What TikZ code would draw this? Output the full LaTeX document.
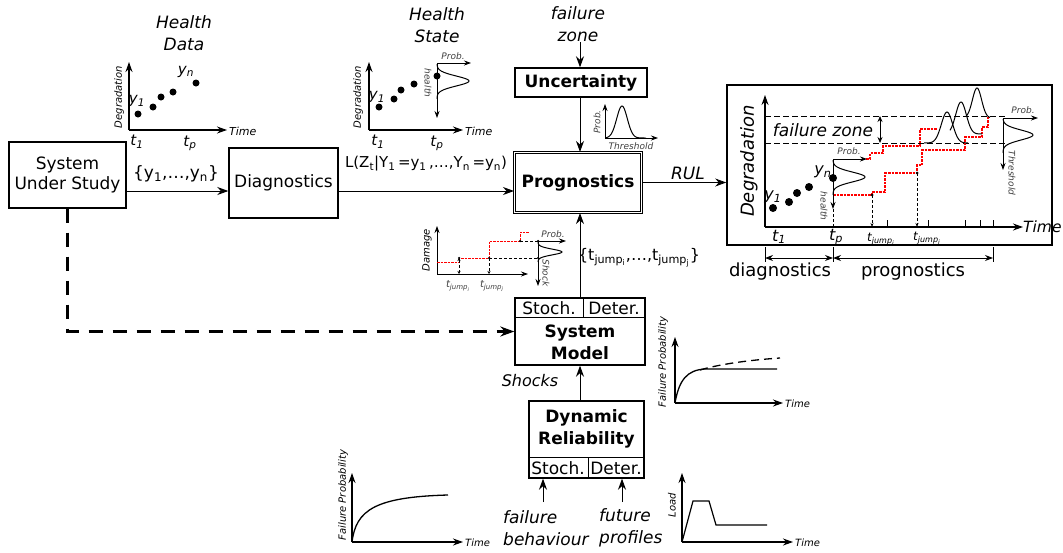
\documentclass[tikz,border=0pt]{standalone}
\usepackage{fontspec}
\setmainfont{DejaVu Sans}
\usetikzlibrary{arrows.meta}
\begin{document}
\begin{tikzpicture}[x=1pt,y=-1pt,
  box/.style={draw, line width=1.4pt, inner sep=0pt, align=center, font=\fontsize{17}{20}\selectfont},
  bbox/.style={box, font=\fontsize{17}{21}\selectfont\bfseries},
  arr/.style={-{Stealth[length=11pt,width=8pt]}, line width=0.9pt},
  axis/.style={-{Stealth[length=10pt,width=7pt]}, line width=1.1pt},
  saxis/.style={-{Stealth[length=7pt,width=5pt]}, line width=0.8pt},
  lab/.style={inner sep=0pt, align=center, font=\fontsize{17}{22}\selectfont},
  ilab/.style={inner sep=0pt, align=center, font=\fontsize{17}{22}\selectfont\itshape},
  tiny/.style={inner sep=0pt, font=\fontsize{10}{12}\selectfont\itshape},
  vtiny/.style={inner sep=0pt, font=\fontsize{9}{11}\selectfont\itshape, text=black!75},
  plab/.style={inner sep=0pt, font=\fontsize{15}{17}\selectfont\itshape},
  redstep/.style={red, dash pattern=on 2.5pt off 1pt, line width=1.2pt},
  bdash/.style={dash pattern=on 3pt off 2pt, line width=0.8pt},
  curve/.style={line width=1pt},
  pt/.style={circle, fill, inner sep=0pt, minimum size=7pt},
  sdot/.style={circle, fill, inner sep=0pt, minimum size=3pt}
]
\useasboundingbox (0,0) rectangle (1063,552);

% ---------------- main boxes ----------------
\node[box, minimum width=117pt, minimum height=66pt] (sus) at (67.5,175) {System\\Under Study};
\node[box, minimum width=109pt, minimum height=70pt] (diag) at (283.5,183) {Diagnostics};
\node[bbox, double, double distance=1.6pt, line width=1.1pt, minimum width=127pt, minimum height=60pt] (prog) at (578,182.5) {Prognostics};
\node[bbox, minimum width=132pt, minimum height=29pt] (unc) at (581,82.5) {Uncertainty};

\node[box, minimum width=130pt, minimum height=67pt] (sm) at (580,331.5) {};
\draw[line width=1.4pt] ([yshift=-20pt]sm.north west) -- ([yshift=-20pt]sm.north east);
\draw[line width=1pt] (sm.north -| 583,0) -- (583,318);
\node[lab] (smst) at (549,308) {Stoch.};
\node[lab] (smde) at (614,308) {Deter.};
\node[lab, font=\fontsize{17}{22}\selectfont\bfseries] (smt) at (580,342) {System\\Model};

\node[box, minimum width=115pt, minimum height=77pt] (dr) at (586.5,439.5) {};
\draw[line width=1.4pt] ([yshift=21pt]dr.south west) -- ([yshift=21pt]dr.south east);
\draw[line width=1pt] (588,457) -- (dr.south -| 588,0);
\node[lab, font=\fontsize{17}{22}\selectfont\bfseries] (drt) at (586.5,429) {Dynamic\\Reliability};
\node[lab] (drst) at (558,468) {Stoch.};
\node[lab] (drde) at (616,468) {Deter.};

\node[draw, line width=1.6pt, minimum width=325pt, minimum height=160pt, inner sep=0pt] (rb) at (889.5,165) {};

% ---------------- connectors ----------------
\coordinate (lev) at (0,191);
\draw[arr] (sus.east |- lev) -- (diag.west |- lev);
\draw[arr] (diag.east |- lev) -- (prog.west |- lev);
\draw[arr] (prog.east) -- (rb.west |- prog.east);
\node[ilab] (fz) at (578,24) {failure\\zone};
\draw[arr] (fz.south -| 580,0) -- (unc.north -| 580,0);
\draw[arr] (unc.south -| 580,0) -- (prog.north -| 580,0);
\draw[arr] (sm.north) -- (prog.south -| sm.north);
\draw[arr] (dr.north -| sm.south) -- (sm.south);
\draw[line width=2.2pt, dash pattern=on 14pt off 10pt, -{Stealth[length=14pt,width=10pt]}] (sus.south) |- (sm.west);
\node[ilab, align=left, anchor=west] (fb) at (503,528) {failure\\behaviour};
\node[ilab, align=left, anchor=west] (fp) at (599,528) {future\\profiles};
\coordinate (fbtop) at (543,502);
\coordinate (fptop) at (622,502);
\draw[arr] (fbtop) -- (fbtop |- dr.south);
\draw[arr] (fptop) -- (fptop |- dr.south);

\node[lab] (ylab) at (176,174) {\{y\textsubscript{1},…,y\textsubscript{n}\}};
\node[lab, font=\fontsize{15}{20}\selectfont] (llab) at (426,164) {L(Z\textsubscript{t}|Y\textsubscript{1}\,=y\textsubscript{1}\,,…,Y\textsubscript{n}\,=y\textsubscript{n})};
\node[ilab] (rul) at (688,173) {RUL};
\node[ilab, font=\fontsize{16}{20}\selectfont\itshape] (shk) at (530,381) {Shocks};
\node[lab, font=\fontsize{16}{20}\selectfont] (tj) at (639,258) {\{t\textsubscript{jump\textsubscript{i}},…,t\textsubscript{jump\textsubscript{j}}\}};

% ---------------- Health Data plot ----------------
\node[ilab] (hd) at (184,33) {Health\\Data};
\draw[axis] (129,130) -- (129,62);
\draw[axis] (129,130) -- (227,130);
\node[tiny, rotate=90] at (119,97) {Degradation};
\node[tiny, anchor=west, font=\fontsize{11}{12}\selectfont\itshape] at (229,131) {Time};
\foreach \p in {(138,114),(153,107),(161,97),(173,92),(196,83)} \node[pt] at \p {};
\node[plab] at (137,101) {y\textsubscript{1}};
\node[plab] at (186,72) {y\textsubscript{n}};
\node[plab] at (137,142) {t\textsubscript{1}};
\node[plab] at (190,143) {t\textsubscript{p}};

% ---------------- Health State plot ----------------
\node[ilab] (hs) at (437,25) {Health\\State};
\draw[axis] (369,130) -- (369,62);
\draw[axis] (369,130) -- (463,130);
\node[tiny, rotate=90] at (358,97) {Degradation};
\node[tiny, anchor=west, font=\fontsize{11}{12}\selectfont\itshape] at (465,131) {Time};
\foreach \p in {(379,107),(394,99),(401,90),(414,84),(437,76)} \node[pt] at \p {};
\draw[saxis] (437,63) -- (437,118);
\draw[saxis] (437,63) -- (471,63);
\node[vtiny] at (453,56) {Prob.};
\draw[curve] plot[domain=64:99, samples=40, smooth] ({437+32*exp(-((\x-81)/7)*((\x-81)/7))}, \x);
\node[vtiny, rotate=-90] at (428,83) {health};
\node[plab] at (377,97) {y\textsubscript{1}};
\node[plab] at (378,142) {t\textsubscript{1}};
\node[plab] at (437,143) {t\textsubscript{p}};

% ---------------- Uncertainty plot ----------------
\draw[saxis] (605,138) -- (605,104);
\draw[saxis] (605,138) -- (658,138);
\draw[curve] plot[domain=606:646, samples=40, smooth] (\x, {138-32*exp(-((\x-622)/7.5)*((\x-622)/7.5))});
\node[vtiny, rotate=90] at (597,122) {Prob.};
\node[vtiny] at (631,146) {Threshold};

% ---------------- big result box ----------------
\draw[axis] (765,227) -- (765,95);
\draw[axis] (765,227) -- (1023,227);
\node[ilab, rotate=90, font=\fontsize{18}{22}\selectfont\itshape] at (749,161) {Degradation};
\node[ilab, anchor=west, font=\fontsize{15.5}{20}\selectfont\itshape] at (1023,227) {Time};
\draw[dash pattern=on 6pt off 3pt, line width=0.8pt] (765,116) -- (1005,116);
\draw[dash pattern=on 6pt off 3pt, line width=0.8pt] (765,143) -- (1005,143);
\node[ilab, font=\fontsize{17}{22}\selectfont\itshape] at (823,130) {failure zone};
\draw[{Stealth[length=6pt,width=5pt]}-{Stealth[length=6pt,width=5pt]}, line width=0.8pt] (880,116) -- (880,143);
\foreach \p in {(773,208),(789,202),(797,193),(809,187),(833,178)} \node[pt, minimum size=8pt] at \p {};
\node[plab, font=\fontsize{16}{18}\selectfont\itshape] at (773,197) {y\textsubscript{1}};
\node[plab, font=\fontsize{16}{18}\selectfont\itshape] at (823,172) {y\textsubscript{n}};
% red step paths
\draw[redstep] (866,159) -- (870,159) -- (870,153) -- (883,153) -- (883,146) -- (920,146) -- (920,129) -- (937,129);
\draw[redstep] (833,195) -- (872,195) -- (872,192) -- (885,192) -- (885,173) -- (917,173) -- (917,165) -- (922,165) -- (922,150) -- (965,150) -- (965,137) -- (982,137) -- (982,127) -- (988,127) -- (988,117);
% prob axes at tp
\draw[saxis] (833,159) -- (833,209);
\draw[saxis] (833,159) -- (867,159);
\node[vtiny] at (849,151) {Prob.};
\draw[curve] plot[domain=160:195, samples=40, smooth] ({833+32*exp(-((\x-177)/7)*((\x-177)/7))}, \x);
\node[vtiny, rotate=-90] at (824,206) {health};
\draw[bdash] (833,209) -- (833,227);
% jump markers
\draw[bdash, -{Stealth[length=4pt,width=3pt]}] (872,195) -- (872,227);
\draw[bdash, -{Stealth[length=4pt,width=3pt]}] (917,173) -- (917,227);
\node[sdot] at (872,195) {};
\node[sdot] at (917,173) {};
\foreach \xx in {887,928,965,980,993} \draw[line width=0.7pt] (\xx,227) -- (\xx,220);
% threshold bells
\draw[curve] plot[domain=924:968, samples=40, smooth] (\x, {143-31*exp(-((\x-947)/8)*((\x-947)/8))});
\draw[curve] plot[domain=950:982, samples=40, smooth] (\x, {134-32*exp(-((\x-961)/7.5)*((\x-961)/7.5))});
\draw[curve] plot[domain=966:990, samples=40, smooth] (\x, {118-30*exp(-((\x-977)/6.5)*((\x-977)/6.5))});
% prob axes right
\draw[saxis] (1003,118) -- (1003,170);
\draw[saxis] (1003,118) -- (1038,118);
\node[vtiny] at (1023,110) {Prob.};
\draw[curve] plot[domain=119:153, samples=40, smooth] ({1003+30*exp(-((\x-135)/7)*((\x-135)/7))}, \x);
\node[vtiny, rotate=-90] at (1012,173) {Threshold};
% axis labels
\node[plab, font=\fontsize{16}{18}\selectfont\itshape] at (779,237) {t\textsubscript{1}};
\node[plab, font=\fontsize{16}{18}\selectfont\itshape] at (836,237) {t\textsubscript{p}};
\node[plab, font=\fontsize{12}{14}\selectfont\itshape] at (881,239) {t\textsubscript{jump\textsubscript{i}}};
\node[plab, font=\fontsize{12}{14}\selectfont\itshape] at (927,239) {t\textsubscript{jump\textsubscript{j}}};
% brackets
\foreach \xx in {765,833,993} \draw[line width=1pt] (\xx,247) -- (\xx,262);
\draw[{Stealth[length=8pt,width=6pt]}-{Stealth[length=8pt,width=6pt]}, line width=1pt] (765,258) -- (833,258);
\draw[{Stealth[length=8pt,width=6pt]}-{Stealth[length=8pt,width=6pt]}, line width=1pt] (833,258) -- (993,258);
\node[lab, font=\fontsize{18}{22}\selectfont] at (780,272) {diagnostics};
\node[lab, font=\fontsize{18}{22}\selectfont] at (913,272) {prognostics};

% ---------------- Damage plot ----------------
\draw[saxis] (437,274) -- (437,226);
\draw[saxis] (437,274) -- (528,274);
\node[tiny, rotate=90] at (427,250) {Damage};
\draw[redstep, line width=1pt] (437,262) -- (459,262) -- (459,258) -- (489,258) -- (489,241) -- (520,241) -- (520,232) -- (529,232);
\draw[bdash] (489,258) -- (538,258);
\draw[bdash] (520,241) -- (538,241);
\draw[bdash, {Stealth[length=3pt,width=3pt]}-{Stealth[length=3pt,width=3pt]}] (459,258) -- (459,274);
\draw[bdash, -{Stealth[length=3pt,width=3pt]}] (489,258) -- (489,274);
\foreach \p in {(459,258),(489,258),(520,241),(538,241),(538,258)} \node[sdot, minimum size=2.5pt] at \p {};
\draw[saxis] (538,241) -- (538,286);
\draw[saxis] (538,241) -- (566,241);
\node[vtiny] at (553,234) {Prob.};
\draw[curve] plot[domain=242:262, samples=30, smooth] ({538+24*exp(-((\x-252)/4)*((\x-252)/4))}, \x);
\node[vtiny, rotate=-90] at (546,273) {Shock};
\node[vtiny, font=\fontsize{10}{12}\selectfont\itshape] at (458,286) {t\textsubscript{jump\textsubscript{i}}};
\node[vtiny, font=\fontsize{10}{12}\selectfont\itshape] at (492,286) {t\textsubscript{jump\textsubscript{j}}};

% ---------------- Failure probability (upper) ----------------
\draw[axis] (675,403) -- (675,337);
\draw[axis] (675,403) -- (783,403);
\node[tiny, rotate=90] at (663,362) {Failure Probability};
\node[tiny, anchor=west] at (785,404) {Time};
\draw[curve, line width=1.3pt] (675,403) .. controls (679,380) and (687,370) .. (705,369) -- (777,369);
\draw[line width=1.3pt, dash pattern=on 8pt off 5pt] (700,370) .. controls (720,364) and (750,360) .. (780,358);

% ---------------- Failure probability (lower) ----------------
\draw[axis] (352,542) -- (352,473);
\draw[axis] (352,542) -- (463,542);
\node[tiny, rotate=90] at (343,495) {Failure Probability};
\node[tiny, anchor=west] at (465,543) {Time};
\draw[curve, line width=1.3pt] (352,542) .. controls (356,510) and (375,497) .. (448,495);

% ---------------- Load plot ----------------
\draw[axis] (682,542) -- (682,473);
\draw[axis] (682,542) -- (793,542);
\node[tiny, rotate=90] at (672,505) {Load};
\node[tiny, anchor=west] at (795,543) {Time};
\draw[line width=1.2pt] (682,542) -- (693,501) -- (709,501) -- (716,525) -- (767,525);
\end{tikzpicture}
\end{document}
